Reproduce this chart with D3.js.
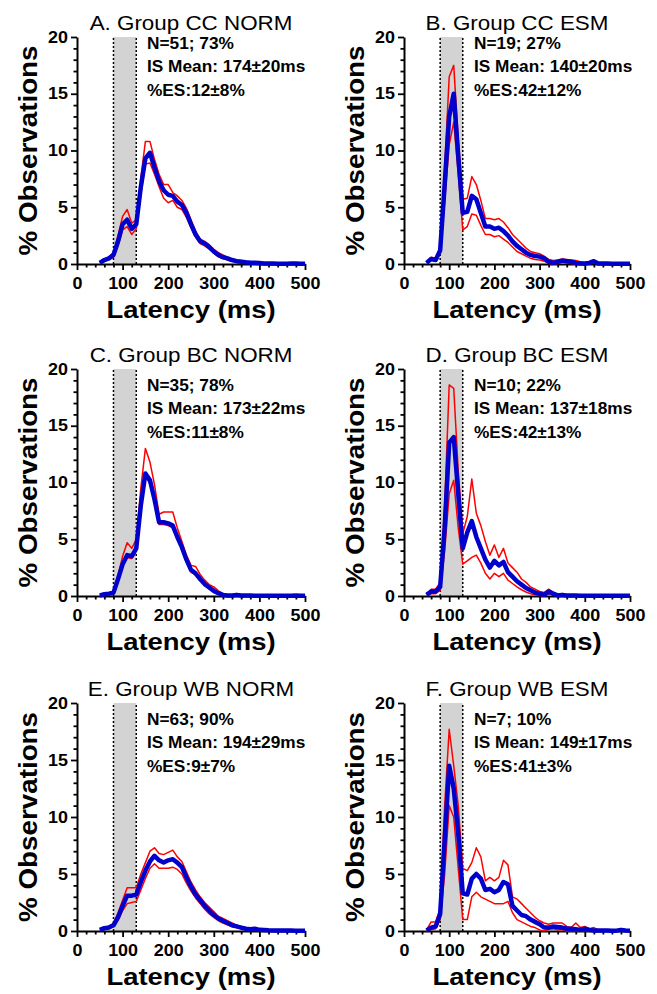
<!DOCTYPE html>
<html><head><meta charset="utf-8">
<script src="https://cdn.jsdelivr.net/npm/d3@7"></script>
<style>body{margin:0;background:#fff} svg{display:block}</style>
</head><body>
<svg id="chart" width="657" height="994"></svg>
<script>
// ---------- DATA ----------
const latency = [50,60,70,80,90,100,110,120,130,140,150,160,170,180,190,200,210,220,230,240,250,260,270,280,290,300,310,320,330,340,350,360,370,380,390,400,410,420,430,440,450,460,470,480,490,500];

const panelTitles = ["A. Group CC NORM","B. Group CC ESM","C. Group BC NORM","D. Group BC ESM","E. Group WB NORM","F. Group WB ESM"];
const annotations = [
  ["N=51; 73%","IS Mean: 174\u00B120ms","%ES:12\u00B18%"],
  ["N=19; 27%","IS Mean: 140\u00B120ms","%ES:42\u00B112%"],
  ["N=35; 78%","IS Mean: 173\u00B122ms","%ES:11\u00B18%"],
  ["N=10; 22%","IS Mean: 137\u00B118ms","%ES:42\u00B113%"],
  ["N=63; 90%","IS Mean: 194\u00B129ms","%ES:9\u00B17%"],
  ["N=7; 10%","IS Mean: 149\u00B117ms","%ES:41\u00B13%"]
];
const xTicks = [0,100,200,300,400,500];
const yTicks = [0,5,10,15,20];
const shadeRange = [80,130];
const xLabel = "Latency (ms)";
const yLabel = "% Observations";

const meanA  = [0.1,0.35,0.5,0.8,2.0,3.5,3.9,3.1,3.5,6.8, 9.3,9.8,8.5,7.3,6.5,6.1,6.0,5.5,5.2,4.5, 3.5,2.6,2.0,1.8,1.5,1.1,0.8,0.6,0.5,0.35, 0.25,0.2,0.15,0.12,0.1,0.08,0.05,0.05,0.05,0.03, 0.03,0.03,0.05,0.05,0.03,0.02];
const upperA = [0.15,0.45,0.6,1.0,2.5,4.2,4.8,3.6,3.9,7.6, 10.8,10.8,9.2,7.9,7.0,7.0,6.3,6.0,5.6,4.9, 3.9,2.9,2.2,2.0,1.7,1.3,1.0,0.8,0.6,0.45, 0.35,0.3,0.22,0.18,0.14,0.12,0.08,0.08,0.07,0.05, 0.05,0.05,0.07,0.07,0.05,0.03];
const lowerA = [0.05,0.25,0.4,0.6,1.6,3.0,3.3,2.6,3.1,6.2, 8.8,8.9,7.9,6.8,5.8,5.4,5.6,5.0,4.8,4.1, 3.2,2.4,1.8,1.6,1.3,0.95,0.65,0.45,0.35,0.25, 0.17,0.12,0.09,0.07,0.06,0.05,0.03,0.03,0.03,0.02, 0.02,0.02,0.03,0.03,0.02,0.01];

const meanB  = [0.1,0.45,0.35,1.2,7.0,13.0,15.0,9.5,4.5,4.6, 6.0,5.7,4.5,3.3,3.3,3.1,3.2,2.9,2.5,2.0, 1.6,1.3,1.0,0.8,0.7,0.65,0.5,0.2,0.1,0.2, 0.3,0.25,0.2,0.1,0.05,0.05,0.1,0.25,0.05,0.05, 0.05,0.03,0.03,0.03,0.02,0.02];
const upperB = [0.15,0.6,0.5,1.5,8.5,16.5,17.5,11.0,5.7,5.8, 7.7,7.0,5.6,4.0,4.0,3.9,4.0,3.7,3.2,2.6, 2.2,1.8,1.4,1.1,1.0,0.9,0.7,0.4,0.3,0.35, 0.45,0.4,0.35,0.3,0.2,0.1,0.2,0.35,0.1,0.08, 0.07,0.05,0.05,0.05,0.04,0.03];
const lowerB = [0.05,0.3,0.25,0.9,5.5,10.5,12.5,8.0,3.0,3.3, 4.4,4.3,3.4,2.6,2.6,2.4,2.5,2.2,1.9,1.5, 1.1,0.9,0.7,0.5,0.4,0.35,0.25,0.05,0.0,0.05, 0.15,0.1,0.05,0.0,0.0,0.0,0.0,0.15,0.0,0.0, 0.0,0.0,0.0,0.0,0.0,0.0];

const meanC  = [0.05,0.15,0.2,0.3,1.5,2.8,3.6,3.5,4.2,8.0, 10.8,10.2,8.5,6.5,6.5,6.4,6.2,5.2,4.3,3.2, 2.3,2.0,1.5,1.05,0.75,0.45,0.25,0.1,0.05,0.05, 0.1,0.05,0.05,0.05,0.03,0.03,0.03,0.03,0.03,0.03, 0.03,0.03,0.03,0.05,0.03,0.02];
const upperC = [0.08,0.2,0.25,0.4,1.8,3.5,4.7,4.2,5.0,9.5, 13.0,11.8,9.8,7.2,7.4,7.4,7.4,6.0,4.8,3.6, 2.7,2.6,1.9,1.4,1.0,0.8,0.45,0.2,0.1,0.08, 0.12,0.07,0.06,0.06,0.04,0.04,0.04,0.04,0.04,0.04, 0.04,0.04,0.04,0.06,0.04,0.03];
const lowerC = [0.03,0.12,0.17,0.25,1.35,2.6,3.4,3.3,4.0,7.7, 10.5,9.9,8.2,6.3,6.3,6.2,6.0,5.0,4.1,3.0, 2.1,1.85,1.35,0.95,0.65,0.4,0.2,0.07,0.03,0.03, 0.08,0.03,0.03,0.03,0.02,0.02,0.02,0.02,0.02,0.02, 0.02,0.02,0.02,0.04,0.02,0.01];

const meanD  = [0.1,0.4,0.4,0.8,6.0,13.5,14.0,9.0,4.2,5.6, 6.6,5.2,4.2,3.2,2.5,3.1,2.7,3.0,2.1,1.7, 1.3,1.0,0.7,0.5,0.3,0.2,0.1,0.4,0.2,0.05, 0.1,0.05,0.05,0.05,0.03,0.03,0.03,0.03,0.03,0.03, 0.03,0.03,0.03,0.03,0.03,0.02];
const upperD = [0.15,0.6,0.6,1.2,8.0,18.6,18.3,11.0,5.5,7.0, 10.3,7.3,6.2,4.8,3.6,4.5,3.4,4.2,2.9,2.5, 2.1,1.5,1.2,0.8,0.6,0.4,0.3,0.6,0.35,0.1, 0.2,0.08,0.08,0.08,0.05,0.05,0.05,0.05,0.05,0.05, 0.05,0.05,0.05,0.05,0.05,0.03];
const lowerD = [0.05,0.2,0.2,0.5,4.0,9.0,10.2,6.0,2.8,3.1, 3.4,3.6,2.9,2.0,1.5,2.0,1.7,2.0,1.4,1.1, 0.8,0.55,0.35,0.2,0.1,0.05,0.0,0.2,0.1,0.0, 0.0,0.0,0.0,0.0,0.0,0.0,0.0,0.0,0.0,0.0, 0.0,0.0,0.0,0.0,0.0,0.0];

const meanE  = [0.1,0.25,0.3,0.5,1.2,2.2,3.1,3.1,3.2,4.3, 5.3,6.1,6.6,6.2,6.0,6.2,6.3,6.0,5.6,4.7, 3.9,3.2,2.7,2.2,1.8,1.4,1.1,0.9,0.7,0.5, 0.4,0.3,0.2,0.15,0.2,0.1,0.08,0.06,0.05,0.05, 0.04,0.04,0.04,0.03,0.03,0.02];
const upperE = [0.15,0.35,0.4,0.7,1.6,2.7,3.8,3.8,3.8,5.0, 6.0,7.0,7.3,6.8,6.7,6.9,7.1,6.5,6.1,5.2, 4.3,3.6,3.0,2.5,2.1,1.7,1.3,1.1,0.9,0.7, 0.5,0.4,0.3,0.25,0.25,0.15,0.12,0.1,0.08,0.07, 0.06,0.06,0.05,0.05,0.04,0.03];
const lowerE = [0.05,0.15,0.2,0.4,1.0,1.8,2.4,2.5,2.6,3.6, 4.6,5.5,5.9,5.5,5.5,5.5,5.6,5.4,5.0,4.2, 3.5,2.9,2.4,1.9,1.5,1.2,0.9,0.7,0.55,0.4, 0.3,0.2,0.15,0.1,0.12,0.06,0.05,0.04,0.03,0.03, 0.02,0.02,0.02,0.02,0.02,0.01];

const meanF  = [0.05,0.3,0.4,1.5,8.0,14.5,12.5,8.5,3.3,3.2, 4.6,5.0,4.6,3.6,3.7,3.4,3.6,4.3,4.1,2.2, 1.8,1.4,1.3,1.0,0.8,0.6,0.3,0.3,0.4,0.35, 0.3,0.2,0.2,0.15,0.1,0.2,0.1,0.05,0.05,0.05, 0.05,0.03,0.03,0.1,0.05,0.03];
const upperF = [0.1,0.8,0.8,2.0,11.0,17.7,14.5,11.0,5.5,5.3, 6.0,7.3,6.5,4.4,4.7,4.4,4.7,6.2,5.8,3.0, 2.8,2.4,2.0,1.6,1.2,0.9,0.7,0.6,0.7,0.7, 0.7,0.4,0.3,0.7,0.3,0.4,0.2,0.3,0.1,0.1, 0.1,0.08,0.08,0.2,0.1,0.05];
const lowerF = [0.0,0.1,0.2,1.0,5.0,11.0,10.0,5.5,1.0,1.0, 3.0,3.4,3.0,2.8,2.6,2.4,2.4,2.4,2.6,1.6, 1.0,0.8,0.6,0.4,0.3,0.1,0.0,0.15,0.2,0.1, 0.1,0.0,0.05,0.0,0.0,0.05,0.0,0.0,0.0,0.0, 0.0,0.0,0.0,0.0,0.0,0.0];

const means  = [meanA, meanB, meanC, meanD, meanE, meanF];
const uppers = [upperA, upperB, upperC, upperD, upperE, upperF];
const lowers = [lowerA, lowerB, lowerC, lowerD, lowerE, lowerF];

// ---------- LAYOUT ----------
const FONT = "'Liberation Sans', Arial, Helvetica, sans-serif";
const colX = [77, 404], colW = [228, 226];
const rowTop = [37, 369, 703], rowBot = [264, 596, 931];
const annoOffset = [11.5, 21.5, 21.5];
const BLUE = "#0000cc", RED = "#ff0000", GRAY = "#d3d3d3";

const svg = d3.select("#chart");

function addText(g, x, y, str, o) {
  return g.append("text")
    .attr("transform", `translate(${x},${y})` + (o.rotate ? ` rotate(${o.rotate})` : "") + ` scale(${o.sx||1},1)`)
    .attr("font-family", FONT)
    .attr("font-size", o.size)
    .attr("font-weight", o.weight || "normal")
    .attr("text-anchor", o.anchor || "start")
    .attr("fill", "#000")
    .text(str);
}

panelTitles.forEach((title, i) => {
  const c = i % 2, r = Math.floor(i / 2);
  const x = d3.scaleLinear().domain([0, 500]).range([colX[c], colX[c] + colW[c]]);
  const y = d3.scaleLinear().domain([0, 20]).range([rowBot[r], rowTop[r]]);
  const g = svg.append("g");

  // shaded window
  g.append("rect")
    .attr("x", x(shadeRange[0])).attr("y", y(20))
    .attr("width", x(shadeRange[1]) - x(shadeRange[0]))
    .attr("height", y(0) - y(20))
    .attr("fill", GRAY);
  shadeRange.forEach(v => {
    g.append("line")
      .attr("x1", x(v)).attr("x2", x(v)).attr("y1", y(0)).attr("y2", y(20))
      .attr("stroke", "#000").attr("stroke-width", 1.5).attr("stroke-dasharray", "2,2");
  });

  // axes
  const yMinor = d3.range(0, 21, 1).filter(v => v % 5 !== 0);
  const xMinor = d3.range(0, 501, 20).filter(v => v % 100 !== 0);
  const ax = g.append("g").attr("transform", `translate(0,${y(0)})`)
    .call(d3.axisBottom(x).tickValues(xTicks).tickSize(6).tickSizeOuter(0).tickPadding(8));
  g.append("g").attr("transform", `translate(0,${y(0)})`)
    .call(d3.axisBottom(x).tickValues(xMinor).tickSize(3.5).tickFormat(""))
    .call(s => s.select(".domain").remove());
  const ay = g.append("g").attr("transform", `translate(${x(0)},0)`)
    .call(d3.axisLeft(y).tickValues(yTicks).tickSize(6).tickSizeOuter(0).tickPadding(3));
  g.append("g").attr("transform", `translate(${x(0)},0)`)
    .call(d3.axisLeft(y).tickValues(yMinor).tickSize(3.5).tickFormat(""))
    .call(s => s.select(".domain").remove());
  g.selectAll(".domain").attr("stroke", "#000").attr("stroke-width", 2);
  g.selectAll(".tick line").attr("stroke", "#000").attr("stroke-width", 1.8);
  ax.selectAll("text").attr("font-family", FONT).attr("font-size", 16).attr("font-weight", "bold")
    .attr("fill", "#000").attr("transform", "scale(1.12,1)");
  ay.selectAll("text").attr("font-family", FONT).attr("font-size", 16).attr("font-weight", "bold")
    .attr("fill", "#000").attr("x", -9 / 1.12).attr("transform", "scale(1.12,1)");

  // series
  const line = d3.line().x((d, j) => x(latency[j])).y(d => y(d));
  [uppers[i], lowers[i]].forEach(s => {
    g.append("path").attr("d", line(s)).attr("fill", "none")
      .attr("stroke", RED).attr("stroke-width", 1.5).attr("stroke-linejoin", "round");
  });
  g.append("path").attr("d", line(means[i])).attr("fill", "none")
    .attr("stroke", BLUE).attr("stroke-width", 4.5).attr("stroke-linejoin", "round");

  // texts
  const cx = (x(0) + x(500)) / 2, cy = (y(0) + y(20)) / 2;
  addText(g, cx, y(20) - 7.5, title, { size: 20, sx: 1.12, anchor: "middle" });
  annotations[i].forEach((t, k) => {
    addText(g, x(0) + 70, y(20) + annoOffset[r] + k * 23.5, t, { size: 16, weight: "bold", sx: 1.08 });
  });
  addText(g, cx, y(0) + 54, xLabel, { size: 24.5, weight: "bold", sx: 1.12, anchor: "middle" });
  addText(g, x(0) - 40, cy, yLabel, { size: 26, weight: "bold", sx: 1.07, anchor: "middle", rotate: -90 });
});
</script>
</body></html>
